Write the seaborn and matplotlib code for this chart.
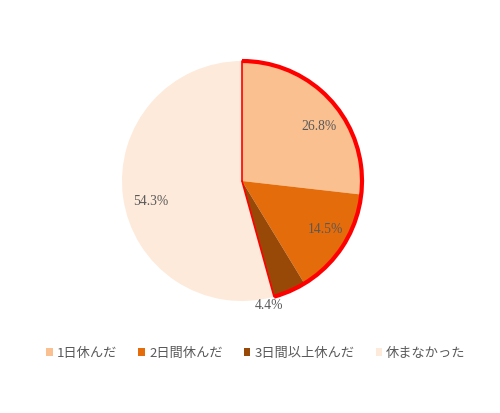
import numpy as np
import matplotlib
matplotlib.use("Agg")
import matplotlib.pyplot as plt
from matplotlib.patches import Arc
import seaborn as sns

categories = ["1日休んだ", "2日間休んだ", "3日間以上休んだ", "休まなかった"]
values = [26.8, 14.5, 4.4, 54.3]
colors = ["#FAC090", "#E46C0A", "#984807", "#FDEADA"]
highlight_n = 3  # first three slices outlined in red

sns.set_theme(style="white")
plt.rcParams['font.family'] = ['Noto Sans CJK JP', 'DejaVu Sans']

fig = plt.figure(figsize=(5.0, 4.14), dpi=100)
ax = fig.add_axes([0.244, 0.2705, 0.48, 0.5797])
palette = sns.color_palette(colors)
wedges, _ = ax.pie(values, colors=palette, startangle=90, counterclock=False,
                   radius=1.0, wedgeprops=dict(linewidth=0))
ax.set_xlim(-1, 1)
ax.set_ylim(-1, 1)
ax.set_aspect('equal')

# labels
total = sum(values)
label_dist = [0.79, 0.80, 1.05, 0.78]
angle_adj = [-6, 3, -11, 4]
cum = 0
for v, d, a in zip(values, label_dist, angle_adj):
    mid = 90 - 360 * (cum + v / 2) / total + a
    cum += v
    x, y = d * np.cos(np.radians(mid)), d * np.sin(np.radians(mid))
    ax.text(x, y, f"{v:.1f}%", ha='center', va='center', fontsize=9.8,
            color='#595959', family=['Liberation Serif', 'DejaVu Serif'])

# red outline around first slices
end_angle = 90 - 360 * sum(values[:highlight_n]) / total
ax.add_patch(Arc((0, 0), 2, 2, theta1=end_angle, theta2=90, color='#FF0000',
                 lw=3, zorder=5, clip_on=False))
ax.plot([0, 0], [0, 1], color='#FF0000', lw=1.2, zorder=5, clip_on=False)
ax.plot([0, np.cos(np.radians(end_angle))], [0, np.sin(np.radians(end_angle))],
        color='#FF0000', lw=1.2, zorder=5, clip_on=False)

fig.legend(wedges, categories, loc='center', bbox_to_anchor=(0.512, 0.145),
           ncol=4, frameon=False, fontsize=9.5, handlelength=0.5,
           handleheight=0.5, handletextpad=0.3, columnspacing=1.6,
           labelcolor='#595959')

fig.savefig("out.png", dpi=100, facecolor='white')
